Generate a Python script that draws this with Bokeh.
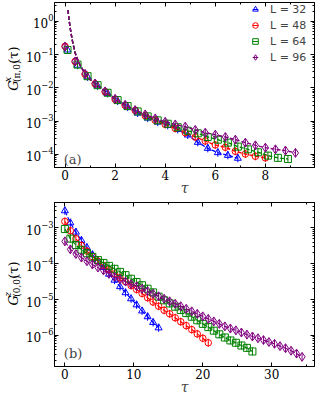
import math
from bokeh.plotting import figure
from bokeh.models import (LogAxis, LinearAxis, FixedTicker, Range1d, Legend,
                          LegendItem, Label, CustomJSTickFormatter)
from bokeh.layouts import column, row
from bokeh.core.properties import value
from bokeh.embed import file_html
from bokeh.resources import INLINE

# ---------------- data ----------------
labels = ["L = 32", "L = 48", "L = 64", "L = 96"]

# panel (a): G^x_(pi,0)(tau)
tau_a_32 = [0.1, 0.5, 0.9, 1.3, 1.7, 2.1, 2.5, 2.9, 3.3, 3.7, 4.1, 4.5, 4.9, 5.3, 5.7, 6.1, 6.5, 6.9]
G_a_32 = [1.38e-1, 4.8e-2, 2.14e-2, 1.15e-2, 6.8e-3, 4.0e-3, 2.63e-3, 1.74e-3, 1.23e-3, 9.3e-4,
          7.4e-4, 5.6e-4, 3.8e-4, 2.29e-4, 1.51e-4, 1.12e-4, 9.3e-5, 7.6e-5]

tau_a_48 = [0.0, 0.4, 0.8, 1.2, 1.6, 2.0, 2.4, 2.8, 3.2, 3.6, 4.0, 4.4, 4.8, 5.2, 5.6, 6.0, 6.4, 6.8,
            7.2, 7.6, 8.0]
G_a_48 = [1.78e-1, 6.2e-2, 2.57e-2, 1.32e-2, 7.6e-3, 4.47e-3, 2.95e-3, 2.09e-3, 1.45e-3, 1.05e-3,
          7.9e-4, 6.0e-4, 4.47e-4, 3.31e-4, 2.51e-4, 1.91e-4, 1.62e-4, 1.23e-4, 1.02e-4, 8.7e-5, 7.8e-5]

tau_a_64 = [0.1, 0.5, 0.9, 1.3, 1.7, 2.1, 2.5, 2.9, 3.3, 3.7, 4.1, 4.5, 4.9, 5.3, 5.7, 6.1, 6.5, 6.9,
            7.3, 7.7, 8.1, 8.5, 8.9]
G_a_64 = [1.38e-1, 5.0e-2, 2.24e-2, 1.20e-2, 7.1e-3, 4.27e-3, 2.82e-3, 1.95e-3, 1.38e-3, 1.05e-3,
          8.3e-4, 6.5e-4, 5.1e-4, 4.27e-4, 3.31e-4, 2.75e-4, 2.24e-4, 1.70e-4, 1.41e-4, 1.15e-4,
          9.1e-5, 7.8e-5, 7.2e-5]

tau_a_96 = [0.0, 0.4, 0.8, 1.2, 1.6, 2.0, 2.4, 2.8, 3.2, 3.6, 4.0, 4.4, 4.8, 5.2, 5.6, 6.0, 6.4, 6.8,
            7.2, 7.6, 8.0, 8.4, 8.8, 9.2]
G_a_96 = [1.74e-1, 6.2e-2, 2.63e-2, 1.35e-2, 7.8e-3, 4.68e-3, 3.09e-3, 2.14e-3, 1.58e-3, 1.20e-3,
          9.5e-4, 7.9e-4, 6.8e-4, 5.4e-4, 4.47e-4, 3.89e-4, 3.31e-4, 2.75e-4, 2.24e-4, 1.86e-4,
          1.58e-4, 1.41e-4, 1.29e-4, 1.10e-4]

# common short-time part of the fitted (dashed) curves in panel (a)
fit_lead_tau = [0.12, 0.15, 0.2, 0.25, 0.3, 0.4, 0.5, 0.6, 0.8, 1.0]
fit_lead_G = [2.2, 1.3, 0.68, 0.40, 0.25, 0.115, 0.072, 0.048, 0.027, 0.018]

# panel (b): G^z_(0,0)(tau)
tau_b = [0.0, 0.8, 1.6, 2.4, 3.2, 4.0, 4.8, 5.6, 6.4, 7.2, 8.0, 8.8, 9.6, 10.4, 11.2, 12.0, 12.8,
         13.6, 14.4, 15.2, 16.0, 16.8, 17.6, 18.4, 19.2, 20.0, 20.8, 21.6, 22.4, 23.2, 24.0, 24.8,
         25.6, 26.4, 27.2, 28.0, 28.8, 29.6, 30.4, 31.2, 32.0, 32.8, 33.6, 34.4]
G_b_32 = [3.0e-3, 1.38e-3, 7.6e-4, 4.47e-4, 2.82e-4, 1.78e-4, 1.17e-4, 7.8e-5, 5.1e-5, 3.47e-5,
          2.29e-5, 1.55e-5, 1.05e-5, 7.1e-6, 4.8e-6, 3.31e-6, 2.29e-6, 1.62e-6]
G_b_48 = [1.51e-3, 8.3e-4, 5.0e-4, 3.24e-4, 2.24e-4, 1.58e-4, 1.17e-4, 8.9e-5, 6.8e-5, 5.2e-5,
          4.07e-5, 3.16e-5, 2.45e-5, 1.91e-5, 1.48e-5, 1.12e-5, 8.5e-6, 6.5e-6, 5.0e-6, 3.98e-6,
          3.09e-6, 2.40e-6, 1.86e-6, 1.45e-6, 1.10e-6, 8.3e-7, 6.2e-7]
G_b_64 = [9.3e-4, 5.0e-4, 3.31e-4, 2.45e-4, 1.95e-4, 1.55e-4, 1.26e-4, 1.05e-4, 8.7e-5, 7.2e-5,
          5.9e-5, 4.79e-5, 3.80e-5, 3.09e-5, 2.51e-5, 2.00e-5, 1.58e-5, 1.20e-5, 9.5e-6, 7.8e-6,
          6.3e-6, 5.1e-6, 4.17e-6, 3.31e-6, 2.63e-6, 2.09e-6, 1.70e-6, 1.35e-6, 1.07e-6, 8.7e-7,
          7.2e-7, 6.2e-7, 5.2e-7, 4.47e-7, 3.55e-7]
G_b_96 = [4.2e-4, 2.51e-4, 1.86e-4, 1.48e-4, 1.17e-4, 9.5e-5, 7.8e-5, 6.5e-5, 5.2e-5, 4.27e-5,
          3.63e-5, 3.16e-5, 2.69e-5, 2.34e-5, 2.00e-5, 1.70e-5, 1.45e-5, 1.23e-5, 1.05e-5, 8.9e-6,
          7.6e-6, 6.5e-6, 5.5e-6, 4.68e-6, 3.98e-6, 3.39e-6, 2.88e-6, 2.45e-6, 2.09e-6, 1.78e-6,
          1.55e-6, 1.38e-6, 1.20e-6, 1.05e-6, 9.3e-7, 8.3e-7, 7.4e-7, 6.5e-7, 5.8e-7, 5.0e-7,
          4.37e-7, 3.72e-7, 3.09e-7, 2.51e-7]

xticks_a = [0, 2, 4, 6, 8]
xticks_b = [0, 10, 20, 30]

# ---------------- style ----------------
COLORS = ["#0000ff", "#ff0000", "#008000", "#800080"]
MARKERS = ["triangle", "circle", "square", "diamond"]
MSIZE = [7, 6.5, 7, 9]
SERIF = "DejaVu Serif"
LW = 22                 # width of the strip holding the rotated y label
W = 316 - LW
H_A, H_B = 198, 199


def style_axis(ax, show_labels=True):
    ax.major_tick_in = 4
    ax.major_tick_out = 0
    ax.minor_tick_in = 2
    ax.minor_tick_out = 0
    ax.axis_line_color = "black"
    ax.major_tick_line_color = "black"
    ax.minor_tick_line_color = "black"
    ax.major_label_text_font = SERIF
    ax.major_label_text_font_size = "12px"
    ax.major_label_text_color = "black"
    ax.major_label_text_line_height = 1.0
    if show_labels:
        ax.major_label_standoff = 2
    else:
        ax.formatter = CustomJSTickFormatter(code="return ''")
        ax.major_label_standoff = 0


def make_fig(height, xr, yr, xticks, xminor, border_top):
    p = figure(width=W, height=height, x_range=Range1d(*xr), y_range=Range1d(*yr),
               y_axis_type="log", output_backend="svg", toolbar_location=None,
               min_border_left=20, min_border_right=2, min_border_top=border_top,
               min_border_bottom=0)
    p.grid.visible = False
    p.outline_line_color = "black"
    p.background_fill_color = "white"
    p.border_fill_color = "white"
    xt = FixedTicker(ticks=xticks, minor_ticks=xminor)
    yt = FixedTicker(ticks=[10.0 ** e for e in range(-8, 1)],
                     minor_ticks=[m * 10.0 ** e for e in range(-8, 1) for m in range(2, 10)])
    p.xaxis.ticker = xt
    p.yaxis.ticker = yt
    style_axis(p.xaxis[0])
    style_axis(p.yaxis[0])
    p.yaxis[0].major_label_standoff = 1
    p.xaxis.axis_label = "τ"
    p.xaxis.axis_label_text_font = SERIF
    p.xaxis.axis_label_text_font_style = "italic"
    p.xaxis.axis_label_text_font_size = "14px"
    p.xaxis.axis_label_text_line_height = 1.0
    p.xaxis.axis_label_standoff = -3
    top = LinearAxis(ticker=xt)
    style_axis(top, False)
    right = LogAxis(ticker=yt)
    style_axis(right, False)
    p.add_layout(top, "above")
    p.add_layout(right, "right")
    return p


def label_strip(height, sup, sub, s0):
    # narrow figure whose frame is the whole strip: data units == pixels (y from bottom)
    s = figure(width=LW, height=height, x_range=Range1d(0, LW), y_range=Range1d(0, height),
               output_backend="svg", toolbar_location=None, min_border=0,
               x_axis_type=None, y_axis_type=None)
    s.outline_line_color = None
    s.grid.visible = False
    bx = 13

    def piece(text, x, y, size, style):
        s.text(x=[x], y=[y], text=[text], angle=math.pi / 2, text_font=value(SERIF),
               text_font_size=size, text_font_style=style, text_align="left",
               text_baseline="alphabetic", text_color="black")
    piece("G", bx, s0, "13px", "italic")
    piece(sup, bx - 5.5, s0 + 10.5, "9px", "italic")
    piece(sub, bx + 3, s0 + 10.5, "9px", "normal")
    piece("(τ)", bx, s0 + 32.5, "13px", "normal")
    return s


def add_series(p, xs, ys, i):
    r1 = p.scatter(xs, ys, marker=MARKERS[i], size=MSIZE[i], line_color=COLORS[i],
                   fill_color=None, line_width=1)
    r2 = p.scatter(xs, ys, marker="dash", angle=math.pi / 2, size=8, line_color=COLORS[i],
                   line_width=1)
    return [r1, r2]


# ---------------- panel (a) ----------------
pa = make_fig(H_A, (-0.42, 9.96), (4e-5, 3.7), xticks_a, [1, 3, 5, 7, 9], 2)
items = []
for i, (xs, ys) in enumerate([(tau_a_32, G_a_32), (tau_a_48, G_a_48),
                              (tau_a_64, G_a_64), (tau_a_96, G_a_96)]):
    rs = add_series(pa, xs, ys, i)
    pa.line(fit_lead_tau + xs[3:], fit_lead_G + ys[3:], line_color=COLORS[i],
            line_dash="4 2", line_width=1.4)
    items.append(LegendItem(label=labels[i], renderers=rs))

legend = Legend(items=items, location="top_right", border_line_color=None,
                background_fill_alpha=0, label_text_font="DejaVu Sans",
                label_text_font_size="11px", glyph_width=14, glyph_height=14,
                label_height=14, label_width=44, spacing=2, padding=7, margin=0,
                label_standoff=8)
pa.add_layout(legend)
pa.add_layout(Label(x=-0.05, y=7.2e-5, text="(a)", text_font=SERIF,
                    text_font_size="13px", text_baseline="alphabetic"))
sa = label_strip(H_A, "x", "(π,0)", 92)

# ---------------- panel (b) ----------------
pb = make_fig(H_B, (-1.5, 36.2), (1.35e-7, 5.1e-3), xticks_b, [5, 15, 25, 35], 4)
for i, G in enumerate([G_b_32, G_b_48, G_b_64, G_b_96]):
    xs = tau_b[:len(G)]
    add_series(pb, xs, G, i)
    pb.line(xs, G, line_color=COLORS[i], line_dash="5 2", line_width=1.2)
pb.add_layout(Label(x=-0.15, y=3.2e-7, text="(b)", text_font=SERIF,
                    text_font_size="13px", text_baseline="alphabetic"))
sb = label_strip(H_B, "z", "(0,0)", 74)

layout = column(row(sa, pa, spacing=0), row(sb, pb, spacing=0), spacing=0)
open("out.html", "w").write(file_html(layout, INLINE))
